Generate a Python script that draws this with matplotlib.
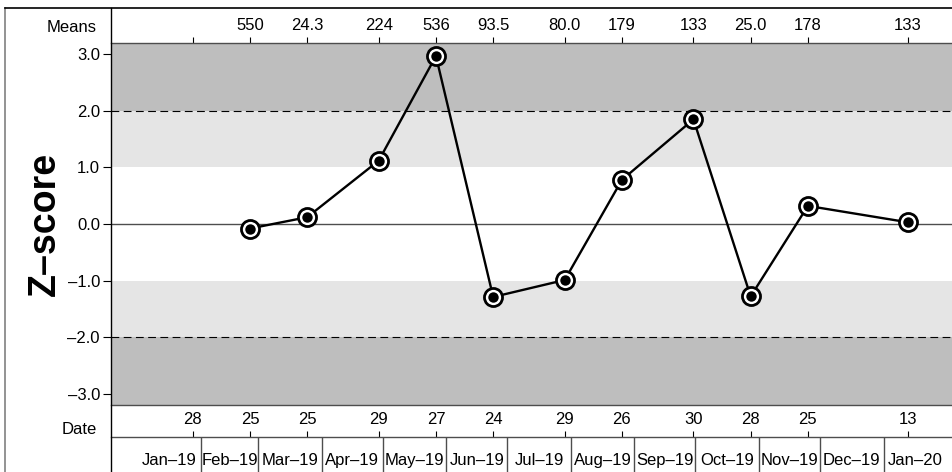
import datetime as dt
import numpy as np
import matplotlib
matplotlib.use("Agg")
import matplotlib.pyplot as plt
import matplotlib.transforms as mtransforms
from matplotlib.lines import Line2D
from matplotlib.ticker import FuncFormatter

plt.rcParams["font.family"] = ["Liberation Sans", "DejaVu Sans"]

# --- data ---
sample_dates = ["2019-01-28", "2019-02-25", "2019-03-25", "2019-04-29", "2019-05-27",
                "2019-06-24", "2019-07-29", "2019-08-26", "2019-09-30", "2019-10-28",
                "2019-11-25", "2020-01-13"]
day_labels = ["28", "25", "25", "29", "27", "24", "29", "26", "30", "28", "25", "13"]
means = ["", "550", "24.3", "224", "536", "93.5", "80.0", "179", "133", "25.0", "178", "133"]
zscores = [np.nan, -0.08, 0.12, 1.12, 2.97, -1.29, -0.99, 0.78, 1.85, -1.28, 0.32, 0.03]

month_starts = ["2019-01-01", "2019-02-01", "2019-03-01", "2019-04-01", "2019-05-01",
                "2019-06-01", "2019-07-01", "2019-08-01", "2019-09-01", "2019-10-01",
                "2019-11-01", "2019-12-01", "2020-01-01", "2020-02-01"]
month_labels = ["Jan\u201319", "Feb\u201319", "Mar\u201319", "Apr\u201319", "May\u201319",
                "Jun\u201319", "Jul\u201319", "Aug\u201319", "Sep\u201319", "Oct\u201319",
                "Nov\u201319", "Dec\u201319", "Jan\u201320"]

yticks = [-3, -2, -1, 0, 1, 2, 3]

dates = [dt.datetime.fromisoformat(d) for d in sample_dates]
mstarts = [dt.datetime.fromisoformat(d) for d in month_starts]
mmids = [a + (b - a) / 2 for a, b in zip(mstarts[:-1], mstarts[1:])]
xlim = (dt.datetime(2018, 12, 19), dt.datetime(2020, 2, 4))

W, H = 953, 472
DARK = "#bebebe"
LIGHT = "#e5e5e5"
EDGE = "#4d4d4d"
FS = 12


def box(x0, y0, x1, y1):
    # pixel box (top-left origin) -> figure fraction rect
    return [x0 / W, 1 - y1 / H, (x1 - x0) / W, (y1 - y0) / H]


fig = plt.figure(figsize=(W / 100, H / 100), dpi=100)

# --- main z-score panel ---
ax = fig.add_axes(box(111, 43, 953, 405))
ax.axhspan(2, 3.2, color=DARK, lw=0, zorder=0)
ax.axhspan(-3.2, -2, color=DARK, lw=0, zorder=0)
ax.axhspan(1, 2, color=LIGHT, lw=0, zorder=0)
ax.axhspan(-2, -1, color=LIGHT, lw=0, zorder=0)
ax.axhline(2, color="black", lw=0.8, dashes=(7, 4), zorder=1)
ax.axhline(-2, color="black", lw=0.8, dashes=(7, 4), zorder=1)
ax.axhline(0, color=EDGE, lw=1.0, zorder=1)

ax.plot(dates, zscores, "-", color="black", lw=1.7, zorder=3)
ax.plot(dates, zscores, "o", ms=13, mfc="white", mec="black", mew=2.0, zorder=4)
ax.plot(dates, zscores, "o", ms=7.5, color="black", mew=0, zorder=5)

ax.set_xlim(*xlim)
ax.set_ylim(-3.2, 3.2)
ax.set_yticks(yticks)
ax.yaxis.set_major_formatter(FuncFormatter(lambda v, p: f"{v:.1f}".replace("-", "\u2013")))
ax.tick_params(axis="y", length=6, width=0.8, pad=2, labelsize=FS)

# means on the top edge
ax.set_xticks(dates)
ax.set_xticklabels(means)
ax.xaxis.tick_top()
ax.tick_params(axis="x", direction="out", length=4, width=0.8, pad=3, labelsize=FS)

for side in ("top", "bottom"):
    ax.spines[side].set_color(EDGE)
    ax.spines[side].set_linewidth(1.0)
ax.spines["right"].set_visible(False)
ax.spines["left"].set_visible(False)

# --- month row, its top edge carries the day-of-month ticks ---
axm = fig.add_axes(box(111, 437, 953, 472))
axm.set_xlim(*xlim)
axm.set_ylim(0, 1)
axm.set_yticks([])
axm.set_xticks(dates)
axm.set_xticklabels(day_labels)
axm.xaxis.tick_top()
axm.tick_params(axis="x", direction="out", length=4, width=0.8, pad=3, labelsize=FS)
for side in ("left", "right", "bottom"):
    axm.spines[side].set_visible(False)
axm.spines["top"].set_color(EDGE)
axm.spines["top"].set_linewidth(1.0)
for m in mstarts[1:-1]:
    axm.axvline(m, color=EDGE, lw=1.0)
trans = mtransforms.blended_transform_factory(axm.transData, axm.transAxes)
for xm, lab in zip(mmids, month_labels):
    axm.text(xm, 0.34, lab, transform=trans, ha="center", va="center", fontsize=FS)

# --- frame lines and row titles ---
fig.add_artist(Line2D([5 / W, 5 / W], [0, 1 - 8 / H], color="#808080", lw=1.2))
fig.add_artist(Line2D([5 / W, 1], [1 - 8 / H, 1 - 8 / H], color="black", lw=1.2))
fig.add_artist(Line2D([111 / W, 111 / W], [0, 1 - 8 / H], color="black", lw=1.0))

fig.text(97 / W, 1 - 27.5 / H, "Means", ha="right", va="center", fontsize=FS)
fig.text(97 / W, 1 - 429 / H, "Date", ha="right", va="center", fontsize=FS)
fig.text(45 / W, 1 - 224 / H, "Z\u2013score", rotation=90, ha="center", va="center",
         fontsize=27, fontweight="bold")

fig.savefig("out.png", dpi=100)
